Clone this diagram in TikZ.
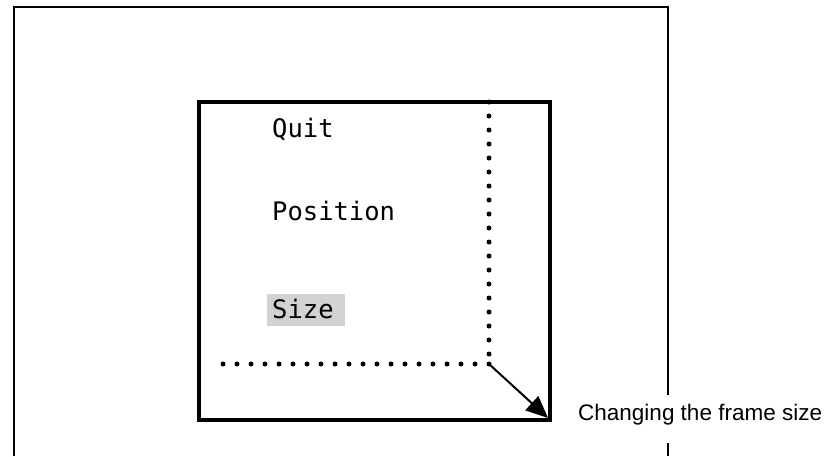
\documentclass[tikz,border=0pt]{standalone}
\usepackage{fontspec}
\setmainfont{Liberation Sans}
\setmonofont{DejaVu Sans Mono}
\usetikzlibrary{arrows.meta, positioning}

\begin{document}
\begin{tikzpicture}[x=1pt, y=-1pt,
    menuitem/.style={anchor=base west, inner sep=0pt, font=\ttfamily\fontsize{25.5}{30}\selectfont},
    caption/.style={anchor=base west, inner sep=0pt, font=\fontsize{22.5}{27}\selectfont},
    dotline/.style={line width=5pt, line cap=round, dash pattern=on 0pt off 14pt}]
    \useasboundingbox (0,0) rectangle (826,456);

    % Outer window, open where the caption crosses it
    \coordinate (gaptop) at (668,395);
    \coordinate (gapbot) at (668,443);
    \draw[line width=2pt] (14,456) -- (14,7) -- (668,7) -- (gaptop);
    \draw[line width=2pt] (gapbot) -- (668,456);

    % Frame
    \draw[line width=4.5pt] (199,102) rectangle (550,420);

    % Highlight
    \fill[gray!35] (267,294) rectangle (345,326);

    % Menu
    \node[menuitem] (quit) at (272,137) {Quit};
    \node[menuitem] (position) at (272,220) {Position};
    \node[menuitem] (size) at (272,318) {Size};

    % New frame outline
    \coordinate (drag) at (489,364);
    \draw[dotline] (489,102) -- (drag);
    \draw[dotline] (drag) -- (210,364);

    % Drag arrow
    \coordinate (tip) at (548,418);
    \draw[line width=2pt, -{Triangle[length=22pt, width=19pt]}] (drag) -- (tip);

    % Caption
    \node[caption] (label) at (578,420) {Changing the frame size};
\end{tikzpicture}
\end{document}
